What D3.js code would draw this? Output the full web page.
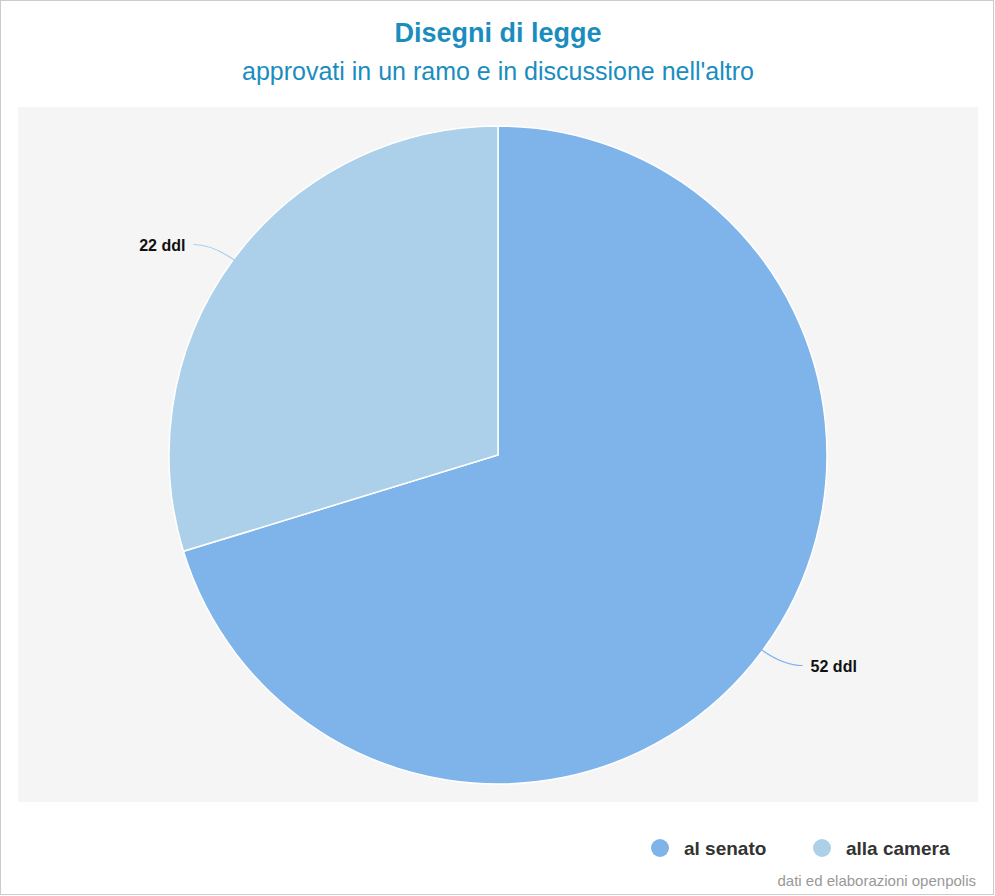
<!DOCTYPE html>
<html><head><meta charset="utf-8">
<script src="https://cdn.jsdelivr.net/npm/d3@7"></script>
<style>body{margin:0;background:#fff}svg{display:block;font-family:"Liberation Sans",Arial,sans-serif}</style>
</head><body><svg id="c" width="995" height="896"></svg>
<script>
const categories = ["al senato", "alla camera"];
const values = [52, 22];
const labels = ["52 ddl", "22 ddl"];
const colors = ["#7eb4ea", "#acd0ea"];

const svg = d3.select("#c");
svg.append("rect").attr("x",0.5).attr("y",0.5).attr("width",993).attr("height",894).attr("fill","#fff").attr("stroke","#ccc");
svg.append("rect").attr("x",18).attr("y",107).attr("width",960).attr("height",695).attr("fill","#f5f5f5");

svg.append("text").attr("x",498).attr("y",42).attr("text-anchor","middle").attr("font-size",27).attr("font-weight","bold").attr("fill","#1a8dbf").text("Disegni di legge");
svg.append("text").attr("x",498).attr("y",80).attr("text-anchor","middle").attr("font-size",25).attr("fill","#1a8dbf").text("approvati in un ramo e in discussione nell'altro");

const cx=498, cy=455, r=329;
const pie = d3.pie().sort(null)(values);
const arc = d3.arc().innerRadius(0).outerRadius(r);
const g = svg.append("g").attr("transform",`translate(${cx},${cy})`);
g.selectAll("path").data(pie).join("path").attr("d",arc).attr("fill",(d,i)=>colors[i]).attr("stroke","#fff").attr("stroke-width",1.5);

const ang = d3.scaleLinear().domain([0,1]).range([0,1]);
pie.forEach((d,i)=>{
  const a = (d.startAngle+d.endAngle)/2;
  const p0 = [Math.sin(a)*(r-5), -Math.cos(a)*(r-5)];
  const p1 = [Math.sin(a)*(r+25), -Math.cos(a)*(r+25)];
  const right = Math.sin(a) > 0;
  const p2 = [p1[0] + (right?20:-20), p1[1]];
  g.append("path").attr("d",`M${p0[0]},${p0[1]} Q${p1[0]},${p1[1]} ${p2[0]},${p2[1]}`).attr("fill","none").attr("stroke",colors[i]).attr("stroke-width",1.2);
  g.append("text").attr("x",p2[0]+(right?8:-8)).attr("y",p2[1]+6).attr("text-anchor",right?"start":"end")
   .attr("font-size",16).attr("font-weight","bold").attr("fill","#111").text(labels[i]);
});

const leg = svg.append("g");
const lx=[660,822];
categories.forEach((c,i)=>{
  leg.append("circle").attr("cx",lx[i]).attr("cy",848).attr("r",9).attr("fill",colors[i]);
  leg.append("text").attr("x",lx[i]+24).attr("y",855).attr("font-size",19).attr("font-weight","bold").attr("fill","#333").text(c);
});
svg.append("text").attr("x",976).attr("y",886).attr("text-anchor","end").attr("font-size",15).attr("fill","#999").text("dati ed elaborazioni openpolis");
</script></body></html>
